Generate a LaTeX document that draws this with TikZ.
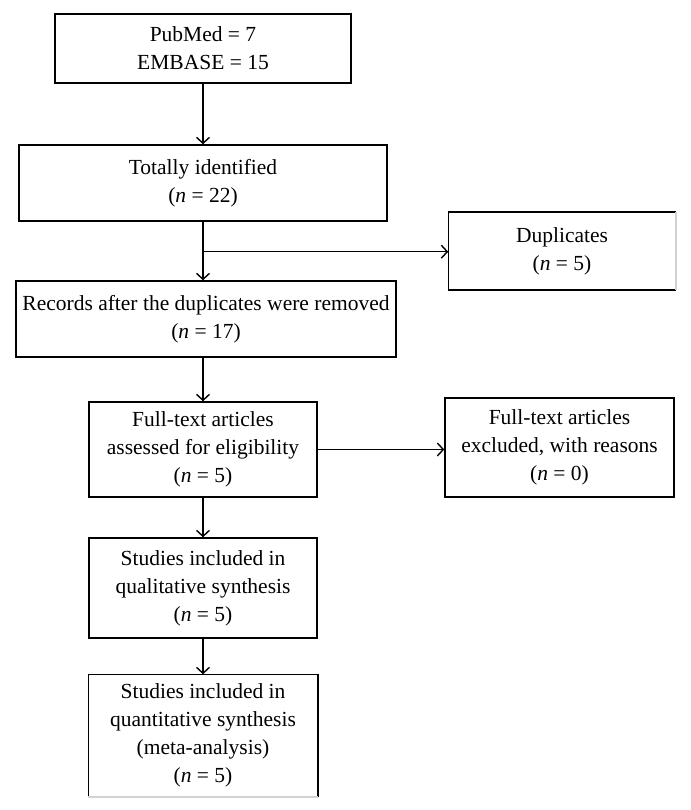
\documentclass[tikz,border=0pt]{standalone}
\usepackage{fontspec}
\setmainfont{Liberation Serif}
\usetikzlibrary{arrows.meta}
\begin{document}
\begin{tikzpicture}[x=1pt,y=-1pt,
  box/.style={draw, line width=1.5pt, inner sep=0pt, align=center,
    font=\fontsize{21.5}{28}\selectfont},
  openbox/.style={box, draw=none},
  arr/.style={line width=1.4pt, -{Straight Barb[length=6pt,width=13pt]}},
  edge/.style={line width=1.5pt},
  faint/.style={line width=1.5pt, gray!35}]
\useasboundingbox (0,0) rectangle (690,810);
\node[box, minimum width=296pt, minimum height=69pt] (src) at (203,48.5)
  {PubMed = 7\\EMBASE = 15};
\node[box, minimum width=368pt, minimum height=76pt] (tot) at (203,183)
  {Totally identified\\(\textit{n} = 22)};
\node[openbox, minimum width=226pt, minimum height=76pt] (dup) at (562,251)
  {Duplicates\\(\textit{n} = 5)};
\node[box, minimum width=380pt, minimum height=76pt] (rec) at (206,319)
  {Records after the duplicates were removed\\(\textit{n} = 17)};
\node[box, minimum width=228pt, minimum height=95pt] (full) at (203,449.5)
  {Full-text articles\\assessed for eligibility\\(\textit{n} = 5)};
\node[box, minimum width=229pt, minimum height=99pt] (excl) at (559.5,447.5)
  {Full-text articles\\excluded, with reasons\\(\textit{n} = 0)};
\node[box, minimum width=228pt, minimum height=100pt] (qual) at (203,588)
  {Studies included in\\qualitative synthesis\\(\textit{n} = 5)};
\node[openbox, minimum width=228pt, minimum height=121pt] (quant) at (203,735.5)
  {Studies included in\\quantitative synthesis\\(meta-analysis)\\(\textit{n} = 5)};
% outlines of the boxes cut at the picture edge
\draw[edge] (dup.south east) -- (dup.south west) -- (dup.north west) -- (dup.north east);
\draw[faint] (dup.north east) -- (dup.south east);
\draw[edge] (quant.south west) -- (quant.north west) -- (quant.north east) -- (quant.south east);
\draw[faint] (quant.south west) -- (quant.south east);
% connectors
\coordinate (br) at (203,251.7);
\draw[arr] (src) -- (tot);
\draw[arr] (tot.south -| br) -- (rec.north -| br);
\draw[arr] (br) -- (br -| dup.west);
\draw[arr] (rec.south -| full.north) -- (full.north);
\draw[arr] (full.east) -- (full.east -| excl.west);
\draw[arr] (full) -- (qual);
\draw[arr] (qual) -- (quant);
\end{tikzpicture}
\end{document}
